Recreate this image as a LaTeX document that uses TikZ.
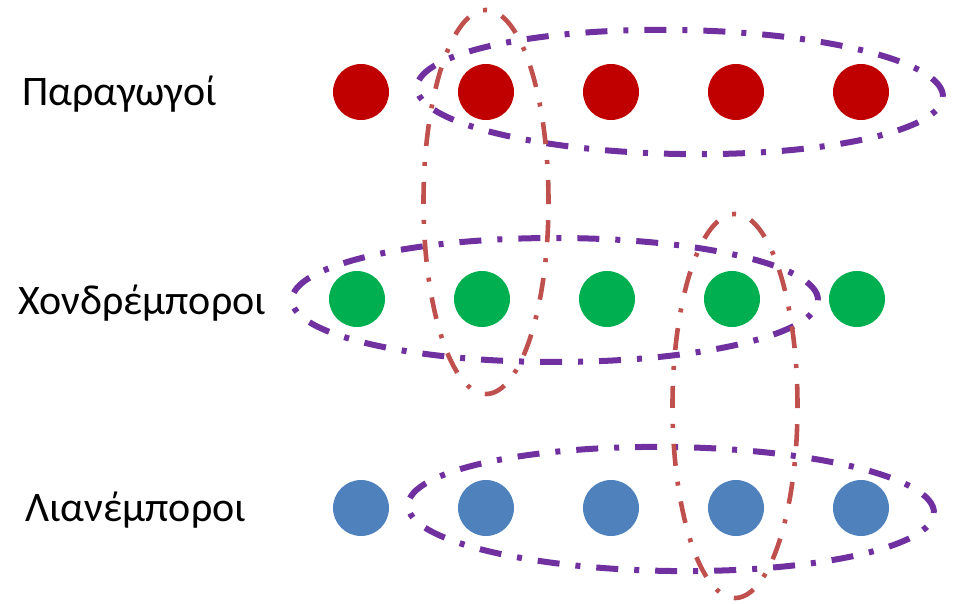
\documentclass[tikz,border=0pt]{standalone}
\usepackage{fontspec}
\setmainfont{Carlito}
\usepackage{tikz}
\usetikzlibrary{shapes.geometric}
\definecolor{prodred}{HTML}{C00000}
\definecolor{wholegreen}{HTML}{00B050}
\definecolor{retailblue}{HTML}{4F81BD}
\definecolor{tierpurple}{HTML}{7030A0}
\definecolor{linkred}{HTML}{C0504D}
\tikzstyle{member} = [circle, minimum size=56pt, inner sep=0pt, draw=none]
\tikzstyle{producer} = [member, fill=prodred]
\tikzstyle{wholesaler} = [member, fill=wholegreen]
\tikzstyle{retailer} = [member, fill=retailblue]
\tikzstyle{tiergroup} = [ellipse, draw=tierpurple, line width=6pt,
    dash pattern=on 22pt off 16pt on 5pt off 16pt, inner sep=0pt,
minimum width=526pt, minimum height=124pt]
\tikzstyle{linkgroup} = [ellipse, draw=linkred, line width=4.6pt,
    dash pattern=on 22pt off 16pt on 4pt off 16pt, inner sep=0pt,
minimum width=125pt, minimum height=384pt]
\tikzstyle{rowlabel} = [anchor=base west, inner sep=0pt,
font=\fontsize{42}{50}\selectfont]

\begin{document}
\begin{tikzpicture}[x=1pt, y=1pt, node distance=125pt]
            \useasboundingbox (0,0) rectangle (954,603);
            % Labels
            \node[rowlabel] (lblp) at (22,497) {Παραγωγοί};
            \node[rowlabel] (lblw) at (18,288) {Χονδρέμποροι};
            \node[rowlabel] (lblr) at (25,81) {Λιανέμποροι};
            % Producers
            \node[producer] (p1) at (361,511) {};
            \node[producer, right of=p1] (p2) {};
            \node[producer, right of=p2] (p3) {};
            \node[producer, right of=p3] (p4) {};
            \node[producer, right of=p4] (p5) {};
            % Wholesalers
            \node[wholesaler] (w1) at (357,304) {};
            \node[wholesaler, right of=w1] (w2) {};
            \node[wholesaler, right of=w2] (w3) {};
            \node[wholesaler, right of=w3] (w4) {};
            \node[wholesaler, right of=w4] (w5) {};
            % Retailers
            \node[retailer] (r1) at (361,95) {};
            \node[retailer, right of=r1] (r2) {};
            \node[retailer, right of=r2] (r3) {};
            \node[retailer, right of=r3] (r4) {};
            \node[retailer, right of=r4] (r5) {};
            % Groups
            \node[tiergroup, rotate=-1] (gp) at (680,511) {};
            \node[tiergroup] (gw) at (555,303) {};
            \node[tiergroup, rotate=-0.8] (gr) at (671,94) {};
            \node[linkgroup] (lk1) at (486,401) {};
            \node[linkgroup] (lk2) at (735,197) {};

        \end{tikzpicture}
\end{document}
